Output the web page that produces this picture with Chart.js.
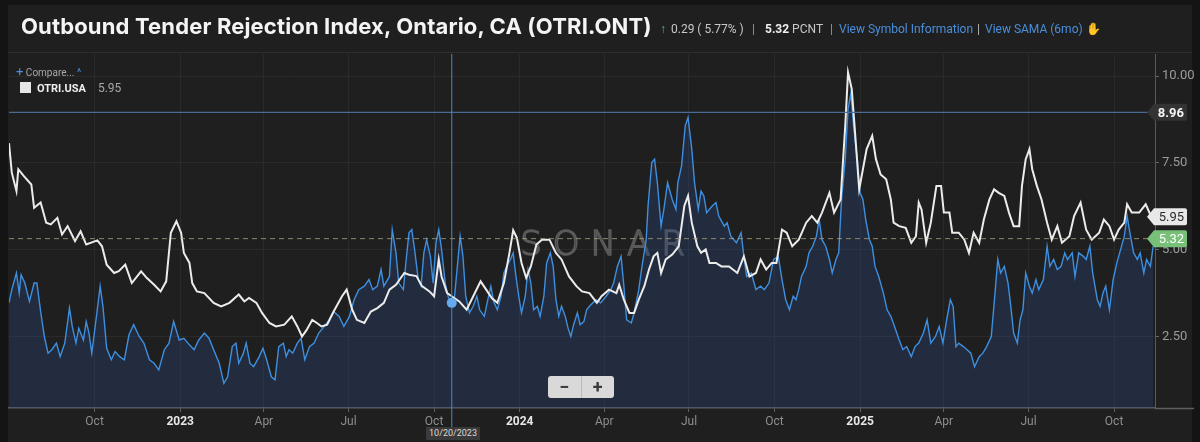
<!DOCTYPE html>
<html><head><meta charset="utf-8">
<script src="https://cdn.jsdelivr.net/npm/chart.js@4.4.1/dist/chart.umd.min.js"></script>
<style>
html,body{margin:0;padding:0;background:#141414;width:1200px;height:442px;overflow:hidden;font-family:Roboto,'Noto Sans',sans-serif;}
#panel{position:absolute;left:8px;top:5px;width:1184px;height:437px;background:#1f1f1f;}
#sep{position:absolute;left:8px;top:52px;width:1184px;height:1px;background:#2e2e2e;}
#c{position:absolute;left:0;top:0;}
.t{position:absolute;white-space:nowrap;}
#title{left:21px;top:13px;font-family:Inter,Roboto,sans-serif;font-weight:bold;font-size:22px;letter-spacing:0.15px;color:#f4f4f4;}
.info{top:22px;font-size:12px;color:#c8c8c8;}
.lnk{color:#4a8fdc;}
#legend1{left:16px;top:64px;font-size:10px;color:#a8a8a8;}
#legend2{left:20px;top:81px;font-size:11px;color:#eee;}
#zoombtn{position:absolute;left:548px;top:376px;width:66px;height:22px;background:#d9d9d9;border-radius:3px;display:flex;font-weight:bold;color:#3a3a3a;font-size:18px;line-height:21px;}
#zoombtn div{flex:1;text-align:center;}
#datebox{position:absolute;left:426px;top:427px;width:54px;height:13px;background:#3a3a3a;color:#d8d8d8;font-size:9px;line-height:13px;text-align:center;}
</style></head>
<body>
<div id="panel"></div>
<div id="sep"></div>
<canvas id="c" width="1200" height="442"></canvas>
<div class="t" id="title">Outbound Tender Rejection Index, Ontario, CA (OTRI.ONT)</div>
<div class="t info" style="left:660px;"><span style="color:#3fbf7f;">&#x2191;</span></div>
<div class="t info" style="left:671px;">0.29 ( 5.77% )</div>
<div class="t info" style="left:752px;color:#999;">|</div>
<div class="t info" style="left:765px;"><b style="color:#f0f0f0;">5.32</b> PCNT</div>
<div class="t info" style="left:830px;color:#999;">|</div>
<div class="t info lnk" style="left:839px;">View Symbol Information</div>
<div class="t info" style="left:977px;color:#bbb;">|</div>
<div class="t info lnk" style="left:985px;">View SAMA (6mo) <span style="color:#e8c22a;">&#x270B;</span></div>
<div class="t" id="legend1"><span style="color:#4a8fdc;font-size:13px;">+</span> Compare... <span style="color:#4a8fdc;">^</span></div>
<div class="t" id="legend2"><span style="display:inline-block;width:11px;height:11px;background:#e6e6e6;vertical-align:-1px;margin-right:6px;"></span><b>OTRI.USA</b><span style="color:#a8a8a8;font-size:12px;margin-left:12px;">5.95</span></div>
<div id="zoombtn"><div style="border-right:1px solid #bbb;">&#x2212;</div><div>+</div></div>
<div id="datebox">10/20/2023</div>
<script>
// Days counted from 2022-07-01
const usaDays = [0,3,8,10,16,24,27,34,40,45,52,57,63,71,77,83,95,100,105,113,118,125,132,142,148,156,163,169,174,180,185,188,194,197,202,210,220,228,237,247,253,258,266,272,280,287,296,304,310,315,320,326,331,336,342,349,358,363,369,374,382,389,396,403,409,416,425,430,438,444,452,457,462,465,471,476,484,492,500,507,513,519,525,532,538,542,546,551,556,561,567,573,581,588,594,602,610,616,624,632,637,645,653,656,661,667,672,677,683,688,693,697,701,706,713,720,726,730,734,740,744,749,753,760,766,774,783,790,796,803,808,814,820,825,831,836,842,849,857,863,869,874,882,887,894,899,902,906,909,914,918,922,928,932,937,943,948,951,957,964,970,975,978,981,986,991,997,1002,1005,1011,1014,1021,1027,1032,1037,1043,1048,1054,1059,1064,1070,1075,1080,1086,1089,1093,1097,1100,1105,1110,1116,1121,1127,1132,1140,1145,1152,1158,1164,1172,1177,1183,1188,1193,1199,1202,1207,1215,1222,1228];
const usaValues = [8.07,7.22,6.69,7.32,7.12,6.88,6.21,6.36,5.78,5.73,5.92,5.44,5.68,5.25,5.53,5.15,5.27,5.10,4.57,4.33,4.38,4.57,4.04,4.38,4.19,3.99,3.80,4.09,5.49,5.82,5.49,4.91,4.62,4.04,3.80,3.75,3.47,3.37,3.47,3.71,3.51,3.61,3.47,3.18,2.89,2.79,2.84,3.08,2.79,2.50,2.69,2.98,2.89,2.79,2.84,3.22,3.66,3.85,3.27,2.98,2.89,3.22,3.32,3.47,3.85,3.99,4.33,4.28,4.24,3.95,3.80,3.66,4.72,4.23,3.75,3.66,3.51,3.27,3.71,4.09,3.85,3.61,3.47,4.04,4.91,5.56,5.34,4.62,4.19,4.52,5.15,5.29,5.29,4.91,4.72,4.23,3.95,3.80,3.75,3.47,3.66,3.85,3.75,3.99,3.56,3.18,3.18,3.56,3.95,4.43,4.81,4.91,4.33,4.72,4.86,5.10,6.26,6.55,5.78,5.10,4.91,5.01,4.62,4.62,4.52,4.52,4.33,4.81,4.23,4.33,4.72,4.43,4.62,4.62,5.58,5.49,5.10,5.29,5.78,5.97,5.78,6.07,6.64,6.07,6.45,8.57,10.11,9.63,8.57,6.74,7.32,7.90,8.28,7.61,7.17,7.03,6.45,5.78,5.68,5.63,5.20,5.39,6.36,6.16,5.20,5.78,6.84,6.84,6.07,6.07,5.49,5.49,5.29,4.91,5.49,5.20,5.87,6.45,6.74,6.64,6.55,6.07,5.68,5.68,6.84,7.61,7.90,7.32,6.84,6.45,5.78,5.29,5.68,5.20,5.39,5.97,6.36,5.58,5.29,5.49,5.87,5.68,5.29,5.58,5.78,6.31,6.07,6.07,6.31,5.95];
const ontDays = [0,3,8,11,13,17,22,27,30,34,38,42,46,51,55,60,65,68,72,75,80,83,86,89,94,98,101,105,110,114,119,124,129,134,140,145,151,156,161,167,172,177,183,188,194,199,204,210,215,220,226,231,235,240,244,247,252,255,259,263,269,273,277,282,286,290,295,298,301,305,310,314,318,323,328,333,339,344,349,355,360,366,371,376,382,387,391,396,400,403,409,412,416,419,424,427,430,433,436,440,443,446,449,453,456,459,462,465,469,472,475,479,483,485,488,491,495,499,503,506,511,514,518,521,525,529,532,535,539,542,545,548,551,555,558,561,564,568,571,575,578,582,585,588,591,594,598,601,604,607,611,614,618,621,624,631,636,642,647,650,654,658,661,664,669,672,677,680,685,687,691,694,697,701,704,708,713,717,719,723,727,730,734,737,741,744,747,750,756,760,763,769,772,776,782,787,790,793,798,803,808,812,817,822,827,831,835,839,843,846,849,852,857,860,864,868,871,874,878,882,885,889,892,895,899,902,905,908,912,915,918,921,925,928,931,935,940,944,948,952,957,961,965,970,974,978,983,987,991,996,1000,1004,1008,1012,1015,1018,1021,1026,1030,1034,1038,1043,1047,1051,1056,1060,1063,1066,1070,1074,1077,1080,1084,1087,1090,1093,1097,1100,1104,1107,1112,1116,1119,1123,1127,1131,1135,1138,1143,1146,1150,1155,1158,1162,1165,1170,1173,1176,1179,1183,1187,1191,1194,1199,1202,1205,1209,1213,1216,1220,1223,1227,1230];
const ontValues = [3.47,3.85,4.33,3.75,4.28,4.04,3.51,4.04,4.04,3.22,2.50,2.02,2.12,2.31,1.92,2.31,3.32,2.79,2.31,2.74,2.40,2.93,2.60,2.02,3.08,3.95,3.37,2.16,1.83,2.07,1.92,1.83,2.55,2.84,2.50,2.31,1.83,1.73,1.54,2.12,2.31,2.93,2.40,2.45,2.26,2.12,2.40,2.60,2.45,2.12,1.73,1.15,1.34,2.21,2.31,1.73,2.02,2.31,1.73,1.63,1.92,2.16,1.83,1.34,1.25,2.21,2.31,1.92,2.12,2.02,2.31,2.45,1.83,2.21,2.31,2.60,2.79,2.98,3.22,3.08,2.79,3.08,3.56,3.85,3.95,4.14,3.85,3.95,4.43,3.95,4.23,5.58,4.91,4.04,3.85,4.72,5.49,5.58,5.01,4.14,3.95,4.91,5.29,4.81,4.04,5.20,5.58,5.01,4.04,3.66,3.47,3.66,4.81,5.39,4.81,3.66,3.18,3.37,3.66,3.27,3.08,3.47,3.95,3.51,3.27,3.66,4.33,4.52,4.72,4.91,4.24,3.66,3.18,3.66,4.43,4.04,3.27,3.37,3.08,3.66,4.62,4.91,4.52,3.56,3.08,3.37,3.08,2.74,2.50,2.84,3.18,2.84,2.93,3.27,3.37,3.56,3.47,3.66,3.85,4.04,4.52,4.81,3.95,2.98,2.89,3.18,3.85,4.43,5.29,6.26,7.51,7.61,6.93,5.68,6.16,6.93,6.45,6.16,6.93,7.41,8.57,8.81,7.90,6.93,6.16,6.69,6.55,6.07,6.26,6.36,5.97,5.68,5.78,5.39,5.20,5.49,4.81,4.23,4.33,3.85,3.95,3.85,4.04,4.72,4.81,4.14,3.56,3.27,3.66,3.56,3.85,4.23,4.52,4.91,5.10,5.39,5.87,5.29,5.10,4.72,4.33,4.72,4.91,6.45,7.61,9.05,9.50,8.57,7.61,6.64,6.45,5.87,5.29,5.10,4.52,4.23,3.75,3.27,3.08,2.79,2.40,2.12,2.21,1.92,2.21,2.31,2.60,2.98,2.31,2.50,2.79,2.31,2.98,3.56,3.37,2.21,2.31,2.21,2.12,2.02,1.63,1.92,2.02,2.21,2.50,3.75,4.72,4.33,4.52,4.04,3.37,2.60,2.31,2.98,3.27,4.33,3.95,3.75,4.14,3.85,4.14,5.10,4.52,4.72,4.43,4.52,4.91,4.72,4.91,4.23,4.91,4.81,4.72,5.10,4.33,3.56,3.37,3.75,3.95,3.27,4.14,4.62,4.91,5.39,5.97,5.49,4.91,4.72,4.91,4.33,4.72,4.52,5.10];
const tickDays = [92,184,274,365,457,549,640,731,823,915,1005,1096,1188];
const tickLabels = ['Oct','2023','Apr','Jul','Oct','2024','Apr','Jul','Oct','2025','Apr','Jul','Oct'];
const yTicks = [2.5,5,7.5,10];
const refLineValue = 8.96;
const lastOnt = 5.32;
const lastUsa = 5.95;
const crosshairDay = 476;
const crosshairValue = 3.47;

const isYear = (l) => /^\d{4}$/.test(l);

const overlay = {
  id:'overlay',
  beforeDatasetsDraw(chart){
    const {ctx, chartArea:a} = chart;
    ctx.save();
    ctx.font = "300 34px 'DejaVu Sans'";
    try{ ctx.letterSpacing = '11px'; }catch(e){}
    ctx.strokeStyle = 'rgba(150,150,150,0.5)';
    ctx.lineWidth = 1.6;
    ctx.textAlign = 'center';
    ctx.textBaseline = 'middle';
    ctx.strokeText('SONAR', (a.left+a.right)/2 + 26, 246);
    ctx.restore();
  },
  afterDatasetsDraw(chart){
    const {ctx, chartArea:a, scales:{x,y}} = chart;
    ctx.save();
    const yr = y.getPixelForValue(refLineValue);
    ctx.strokeStyle = '#4a6b94'; ctx.lineWidth = 1.3;
    ctx.beginPath(); ctx.moveTo(a.left, yr); ctx.lineTo(a.right, yr); ctx.stroke();
    const yl = y.getPixelForValue(lastOnt);
    ctx.strokeStyle = 'rgba(175,168,125,0.75)'; ctx.lineWidth = 1; ctx.setLineDash([5,4]);
    ctx.beginPath(); ctx.moveTo(a.left, yl); ctx.lineTo(a.right, yl); ctx.stroke();
    ctx.setLineDash([]);
    const xc = x.getPixelForValue(crosshairDay);
    ctx.strokeStyle = '#4f86c6'; ctx.lineWidth = 1;
    ctx.beginPath(); ctx.moveTo(xc, a.top); ctx.lineTo(xc, 428); ctx.stroke();
    ctx.fillStyle = '#67a9ef';
    ctx.beginPath(); ctx.arc(xc, y.getPixelForValue(crosshairValue), 5, 0, Math.PI*2); ctx.fill();
    ctx.restore();
  },
  afterDraw(chart){
    const {ctx, chartArea:a, scales:{y}} = chart;
    ctx.save();
    ctx.strokeStyle = '#5e5e5e'; ctx.lineWidth = 1.5;
    ctx.beginPath(); ctx.moveTo(a.right, a.bottom+0.5); ctx.lineTo(1194, a.bottom+0.5); ctx.stroke();
    const tag = (val, text, bg, fg, bold) => {
      const py = y.getPixelForValue(val);
      const l = 1147, r = 1187, h = 8.5;
      ctx.fillStyle = bg;
      ctx.beginPath();
      ctx.moveTo(l, py); ctx.lineTo(l+7, py-h); ctx.lineTo(r-2, py-h);
      ctx.quadraticCurveTo(r, py-h, r, py-h+2); ctx.lineTo(r, py+h-2);
      ctx.quadraticCurveTo(r, py+h, r-2, py+h); ctx.lineTo(l+7, py+h); ctx.closePath(); ctx.fill();
      ctx.fillStyle = fg;
      ctx.font = (bold?'bold ':'') + "13px Roboto";
      ctx.textAlign = 'right'; ctx.textBaseline = 'middle';
      ctx.fillText(text, r-3, py+1);
    };
    tag(refLineValue, refLineValue.toFixed(2), '#333333', '#f4f4f4', true);
    tag(lastUsa, lastUsa.toFixed(2), '#e8e8e8', '#2a2a2a', false);
    tag(lastOnt, lastOnt.toFixed(2), '#78c078', '#ffffff', false);
    ctx.restore();
  }
};

new Chart(document.getElementById('c'), {
  type: 'line',
  data: {
    datasets: [
      {
        label: 'OTRI.USA',
        data: usaDays.map((d,i)=>({x:d, y:usaValues[i]})),
        borderColor: '#ececec', borderWidth: 2, pointRadius: 0, fill: false, tension: 0
      },
      {
        label: 'OTRI.ONT',
        data: ontDays.map((d,i)=>({x:d, y:ontValues[i]})),
        borderColor: '#3e8fe0', borderWidth: 1.4, pointRadius: 0, tension: 0,
        fill: 'start', backgroundColor: 'rgba(44,74,128,0.33)'
      }
    ]
  },
  options: {
    responsive: false, animation: false,
    layout: { padding: { left: 9, top: 54, right: 0, bottom: 0 } },
    plugins: { legend: { display: false }, tooltip: { enabled: false } },
    scales: {
      x: {
        type: 'linear', min: 0, max: 1232,
        afterBuildTicks: (axis) => { axis.ticks = tickDays.map(v => ({ value: v })); },
        afterFit: (s) => { s.height = 34; },
        grid: { color: '#2a2a2a', tickColor: '#5e5e5e', tickLength: 4, drawTicks: true },
        border: { color: '#5e5e5e', width: 1.5 },
        ticks: {
          autoSkip: false, maxRotation: 0, padding: 3,
          callback: (v, i) => tickLabels[i],
          color: (c) => isYear(tickLabels[c.index]) ? '#e6e6e6' : '#8e8e8e',
          font: (c) => ({ family: 'Roboto', size: 12, weight: isYear(tickLabels[c.index]) ? 'bold' : 'normal' })
        }
      },
      y: {
        position: 'right', min: 0.44, max: 10.64,
        afterBuildTicks: (axis) => { axis.ticks = yTicks.map(v => ({ value: v })); },
        afterFit: (s) => { s.width = 45; },
        grid: { color: '#2a2a2a', tickColor: '#666', tickLength: 4 },
        border: { color: '#5a5a5a', width: 1 },
        ticks: {
          padding: 3, color: '#9c9c9c',
          font: { family: 'Roboto', size: 13 },
          callback: (v) => Number(v).toFixed(2)
        }
      }
    }
  },
  plugins: [overlay]
});
</script>
</body></html>
